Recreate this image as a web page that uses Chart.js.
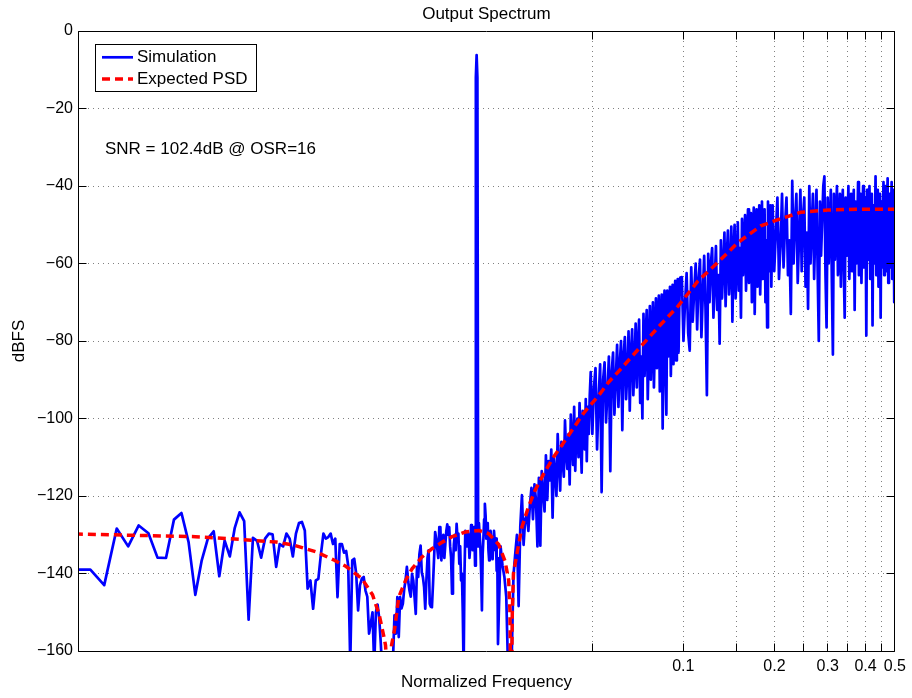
<!DOCTYPE html>
<html>
<head>
<meta charset="utf-8">
<title>Output Spectrum</title>
<script src="https://cdn.jsdelivr.net/npm/chart.js@4.4.1/dist/chart.umd.min.js"></script>
<style>
  html, body { margin: 0; padding: 0; background: #fff; }
  #wrap { width: 912px; height: 698px; }
</style>
</head>
<body>
<div id="wrap"><canvas id="spectrum" width="912" height="698"></canvas></div>
<script>
// ---- spectrum data: 8192-point FFT, values in dBFS ----
const FFT_N = 8192;

// Simulated modulator output. Each block lists bins start, start+step, ...
const simStartA = 8, simStepA = 1;      // bins 8..200
const simDbA = [
  -139, -139, -143, -128.4, -133, -127.6, -129.6, -135.9, -136, -126.1,
  -124.4, -131.9, -145.5, -136.6, -131, -129.1, -140.7, -131.5, -135.6, -128.2,
  -124.2, -126.5, -151.9, -130.8, -131.6, -135.9, -131, -129.7, -129.9, -138.3,
  -132.4, -133, -129.7, -131, -135.6, -129.7, -127, -126.7, -128.9, -143.9,
  -141.8, -149.1, -141.8, -141.4, -135, -129.7, -131, -130.6, -129.7, -132.4,
  -131, -146.1, -132.4, -132.4, -134.6, -134.2, -138, -163, -136.6, -136.2,
  -140, -149.5, -143, -141.3, -140.9, -144.4, -146, -155.5, -152.9, -150,
  -164, -150, -148, -151.4, -158, -166, -170, -168, -172, -165,
  -170, -163, -162, -150.8, -155.5, -146.1, -156.4, -146.1, -149, -147.8,
  -144, -141.8, -138.3, -142, -144.4, -146, -140.1, -141.8, -146, -150.4,
  -138.3, -140.9, -135, -132.8, -139.7, -141, -143.5, -149.1, -141.8, -136,
  -134, -147.8, -148.6, -148.7, -142.7, -136, -129.3, -131, -133.6, -136,
  -128, -128, -136.6, -131.9, -130, -136, -132.4, -129, -127.3, -130,
  -128, -133, -136, -145.2, -138, -132.4, -130, -134, -127.2, -131,
  -129.7, -137.5, -133, -141.8, -140, -150, -165, -140, -129, -131,
  -133, -129.5, -130.5, -136, -133, -127.5, -130, -134, -131, -128,
  -138, -12, -6.2, -12, -133, -127, -130, -133.6, -140, -149.5,
  -135, -131, -126, -122, -125, -131, -129.7, -127, -134, -136.6,
  -131, -129, -130.6, -133, -136.3, -131, -129, -131.3, -134, -131,
  -139.3, -136, -158.2
];
const simStartB = 204, simStepB = 3;    // bins 204..402
const simDbB = [
  -133, -138, -140.9, -146, -165, -170, -162, -140.5, -135, -130,
  -148.4, -127.8, -119.8, -132.6, -126, -124.8, -129, -122.2, -117.9, -126,
  -117, -121, -133, -115.3, -132.8, -113.6, -119, -124, -109.5, -121,
  -111, -116, -108, -125.6, -110, -114, -120, -104, -112, -118.6,
  -106, -111, -115, -100.5, -109, -113, -104, -117, -99, -106,
  -112, -97, -113.5, -102, -100, -110, -96, -105, -114, -98,
  -103, -108, -95, -111, -97, -104, -94
];
const simStartC = 405, simStepC = 5;    // bins 405..800
const simDbC = [
  -88, -104, -92, -87, -108, -95, -86, -119, -90, -85.5,
  -101, -93, -84, -113.6, -88, -83, -99, -90, -81, -97,
  -86, -80, -103, -84, -79, -95, -88, -77.5, -98, -83,
  -77, -94, -86, -75.5, -92, -81, -74.5, -96, -84, -100,
  -73, -89, -79, -72, -95, -82, -71, -90, -78, -70,
  -92, -80, -69, -87, -76, -68.3, -93, -79, -68, -102.6,
  -74, -67, -88, -99, -67, -84, -74, -66, -89, -75,
  -65.5, -86, -73, -64.5, -85, -71, -64, -83, -70, -63.6
];
const simStartD = 810, simStepD = 10;   // bins 810..1600
const simDbD = [
  -63.5, -80, -70, -62.5, -78, -82.5, -61, -75, -67, -60,
  -77, -64, -59, -79, -68, -58, -72, -94, -57.5, -70,
  -60, -56, -74, -65, -55.5, -72, -63, -80.7, -54, -69,
  -60, -52, -71, -58, -51.5, -68, -62, -50.5, -75, -57,
  -50, -69, -59, -49.4, -67, -56, -74, -48.5, -63, -55,
  -47.5, -67, -54, -46, -65, -57, -47, -70, -52, -45.6,
  -73, -55, -46, -66, -53, -45, -68, -57, -44, -64,
  -51, -46, -70, -54, -76.5, -44, -62, -52, -45, -66
];
const simStartE = 1616, simStepE = 20;  // bins 1616..4096
const simDbE = [
  -45, -62, -52, -43, -64, -55, -42, -61, -50, -43,
  -63, -54, -73, -38.7, -60, -49, -42, -65, -53, -41,
  -62, -48, -43, -66, -52, -71.7, -40, -60, -50, -42,
  -64, -51, -41, -62, -80, -44, -58, -49, -40, -37.5,
  -63, -76.5, -43, -60, -50, -41, -65, -83.5, -42, -59,
  -49, -40, -63, -52, -42, -66, -48, -41, -61, -74,
  -43, -58, -50, -40, -64, -53, -42, -62, -47, -41,
  -72, -44, -60, -51, -39, -63, -49, -42, -65, -52,
  -40, -61, -48, -43, -78.6, -41, -59, -50, -40, -64,
  -47, -42, -76, -45, -60, -52, -37.5, -63, -49, -41,
  -66, -51, -42, -74, -44, -61, -48, -39, -63, -52,
  -40, -62, -47, -38, -65, -50, -42, -61, -48, -39,
  -64, -51, -41, -70, -58
];

// Expected noise PSD from the NTF
const psdBins = [
  8, 20, 26, 37, 42, 50, 57, 63, 71, 77, 81, 84, 85, 86, 87, 88, 89, 91, 94, 99,
  104, 112, 121, 131, 141, 156, 173, 186, 201, 211, 217, 219, 221, 223, 225, 231,
  240, 252, 265, 283, 305, 342, 383, 435, 463, 519, 596, 685, 787, 916, 1066,
  1241, 1477, 1680, 2000, 2455, 3082, 4096
];
const psdDb = [
  -129.8, -130.5, -131, -131.9, -132.6, -134.4, -136.4, -138.2, -141.3, -145.5,
  -150.6, -156.4, -158.5, -165, -180, -165, -158.5, -154.6, -146.1, -141.8,
  -138.8, -135.8, -133.6, -131.9, -130.5, -129.3, -128.9, -129.7, -132.5, -136.8,
  -141.8, -149.5, -180, -150, -140, -134.9,
  -128, -122.9, -118.6, -114.3, -110, -104.4, -98.7, -93.6, -90.7, -86.5, -81.2,
  -76, -71, -64.5, -59.7, -54.6, -50.3, -48.7, -46.8, -46.2, -46, -46
];

// axis ticks
const xGridFreqs = [0.05, 0.1, 0.15, 0.2, 0.25, 0.3, 0.35, 0.4, 0.45, 0.5];
const xLabelFreqs = [0.1, 0.2, 0.3, 0.4, 0.5];
const yTickValues = [-160, -140, -120, -100, -80, -60, -40, -20, 0];

const snrText = 'SNR = 102.4dB @ OSR=16';
const FONT = "'Liberation Sans', Arial, Helvetica, sans-serif";

function blockPoints(start, step, db) {
  return db.map((v, i) => ({ x: (start + i * step) / FFT_N, y: v }));
}

const simPoints = [].concat(
  blockPoints(simStartA, simStepA, simDbA),
  blockPoints(simStartB, simStepB, simDbB),
  blockPoints(simStartC, simStepC, simDbC),
  blockPoints(simStartD, simStepD, simDbD),
  blockPoints(simStartE, simStepE, simDbE)
);
const psdPoints = psdBins.map((k, i) => ({ x: k / FFT_N, y: psdDb[i] }));

const crisp = v => Math.round(v - 0.5) + 0.5;

// title, axes box with inward ticks, legend and the SNR note
const spectrumDecor = {
  id: 'spectrumDecor',
  afterDraw(chart, args, opts) {
    const { ctx, chartArea: a } = chart;
    const xs = chart.scales.x, ys = chart.scales.y;
    ctx.save();

    ctx.fillStyle = '#000';
    ctx.font = '17px ' + FONT;
    ctx.textAlign = 'center';
    ctx.textBaseline = 'middle';
    ctx.fillText(opts.title, (a.left + a.right) / 2, 14);

    const L = crisp(a.left), R = crisp(a.right), T = crisp(a.top), B = crisp(a.bottom);
    ctx.strokeStyle = '#000';
    ctx.lineWidth = 1;
    ctx.beginPath();
    ctx.rect(L, T, R - L, B - T);
    const tl = opts.tickLen;
    xGridFreqs.forEach(f => {
      const px = crisp(xs.getPixelForValue(f));
      ctx.moveTo(px, B); ctx.lineTo(px, B - tl);
      ctx.moveTo(px, T); ctx.lineTo(px, T + tl);
    });
    yTickValues.forEach(v => {
      const py = crisp(ys.getPixelForValue(v));
      ctx.moveTo(L, py); ctx.lineTo(L + tl, py);
      ctx.moveTo(R, py); ctx.lineTo(R - tl, py);
    });
    ctx.stroke();

    // legend
    const lg = opts.legend;
    const bx = a.left + lg.dx, by = a.top + lg.dy;
    ctx.font = '17px ' + FONT;
    const items = chart.data.datasets;
    const textW = Math.max(...items.map(d => ctx.measureText(d.label).width));
    const textX = bx + lg.sampleLen + 11;
    const bw = textX - bx + textW + 8;
    const bh = lg.rowH * items.length + 4;
    ctx.fillStyle = '#fff';
    ctx.fillRect(bx, by, bw, bh);
    ctx.strokeRect(crisp(bx), crisp(by), Math.round(bw), Math.round(bh));
    items.forEach((d, i) => {
      const cy = by + 2 + lg.rowH * (i + 0.5) + 0.5;
      ctx.save();
      ctx.strokeStyle = d.borderColor;
      ctx.lineWidth = Math.min(d.borderWidth, 3.5);
      ctx.setLineDash(d.borderDash || []);
      ctx.beginPath();
      ctx.moveTo(bx + 7, cy);
      ctx.lineTo(bx + 7 + lg.sampleLen, cy);
      ctx.stroke();
      ctx.restore();
      ctx.fillStyle = '#000';
      ctx.textAlign = 'left';
      ctx.textBaseline = 'middle';
      ctx.fillText(d.label, textX, cy);
    });

    ctx.font = '17px ' + FONT;
    ctx.textAlign = 'left';
    ctx.textBaseline = 'middle';
    ctx.fillText(opts.note, a.left + 27, 149);
    ctx.restore();
  }
};

Chart.defaults.font.family = FONT;
Chart.defaults.color = '#000';

const gridColor = '#808080';

new Chart(document.getElementById('spectrum'), {
  type: 'line',
  data: {
    datasets: [
      {
        label: 'Simulation',
        data: simPoints,
        borderColor: '#0000ff',
        borderWidth: 2.7,
        borderJoinStyle: 'round',
        pointRadius: 0,
        tension: 0,
        clip: 0,
        order: 2
      },
      {
        label: 'Expected PSD',
        data: psdPoints,
        borderColor: '#ff0000',
        borderWidth: 3.5,
        borderDash: [8, 5],
        pointRadius: 0,
        tension: 0,
        clip: 0,
        order: 1
      }
    ]
  },
  options: {
    responsive: false,
    animation: false,
    devicePixelRatio: 1,
    layout: { padding: { top: 31, right: 14, left: 0, bottom: 0 } },
    plugins: {
      legend: { display: false },
      tooltip: { enabled: false },
      spectrumDecor: {
        title: 'Output Spectrum',
        note: snrText,
        tickLen: 8,
        legend: { dx: 17, dy: 13, rowH: 21.6, sampleLen: 31 }
      }
    },
    scales: {
      x: {
        type: 'logarithmic',
        min: 0.001,
        max: 0.5,
        afterBuildTicks: s => { s.ticks = xGridFreqs.map(v => ({ value: v })); },
        afterFit: s => { s.height = 47; },
        ticks: {
          autoSkip: false,
          maxRotation: 0,
          padding: 6,
          font: { size: 16 },
          callback: v => (xLabelFreqs.includes(v) ? String(v) : '')
        },
        grid: { color: gridColor, lineWidth: 1, drawTicks: false },
        border: { display: false, dash: [1, 4] },
        title: {
          display: true,
          text: 'Normalized Frequency',
          font: { size: 17 },
          padding: { top: 0, bottom: 5 }
        }
      },
      y: {
        type: 'linear',
        min: -160,
        max: 0,
        afterBuildTicks: s => { s.ticks = yTickValues.map(v => ({ value: v })); },
        afterFit: s => { s.width = 78; },
        ticks: {
          padding: 5,
          font: { size: 16 },
          callback: v => (v < 0 ? '\u2212' + Math.abs(v) : String(v))
        },
        grid: { color: gridColor, lineWidth: 1, drawTicks: false },
        border: { display: false, dash: [1, 4] },
        title: {
          display: true,
          text: 'dBFS',
          font: { size: 17 },
          padding: { top: 9, bottom: 0 }
        }
      }
    }
  },
  plugins: [spectrumDecor]
});
</script>
</body>
</html>
